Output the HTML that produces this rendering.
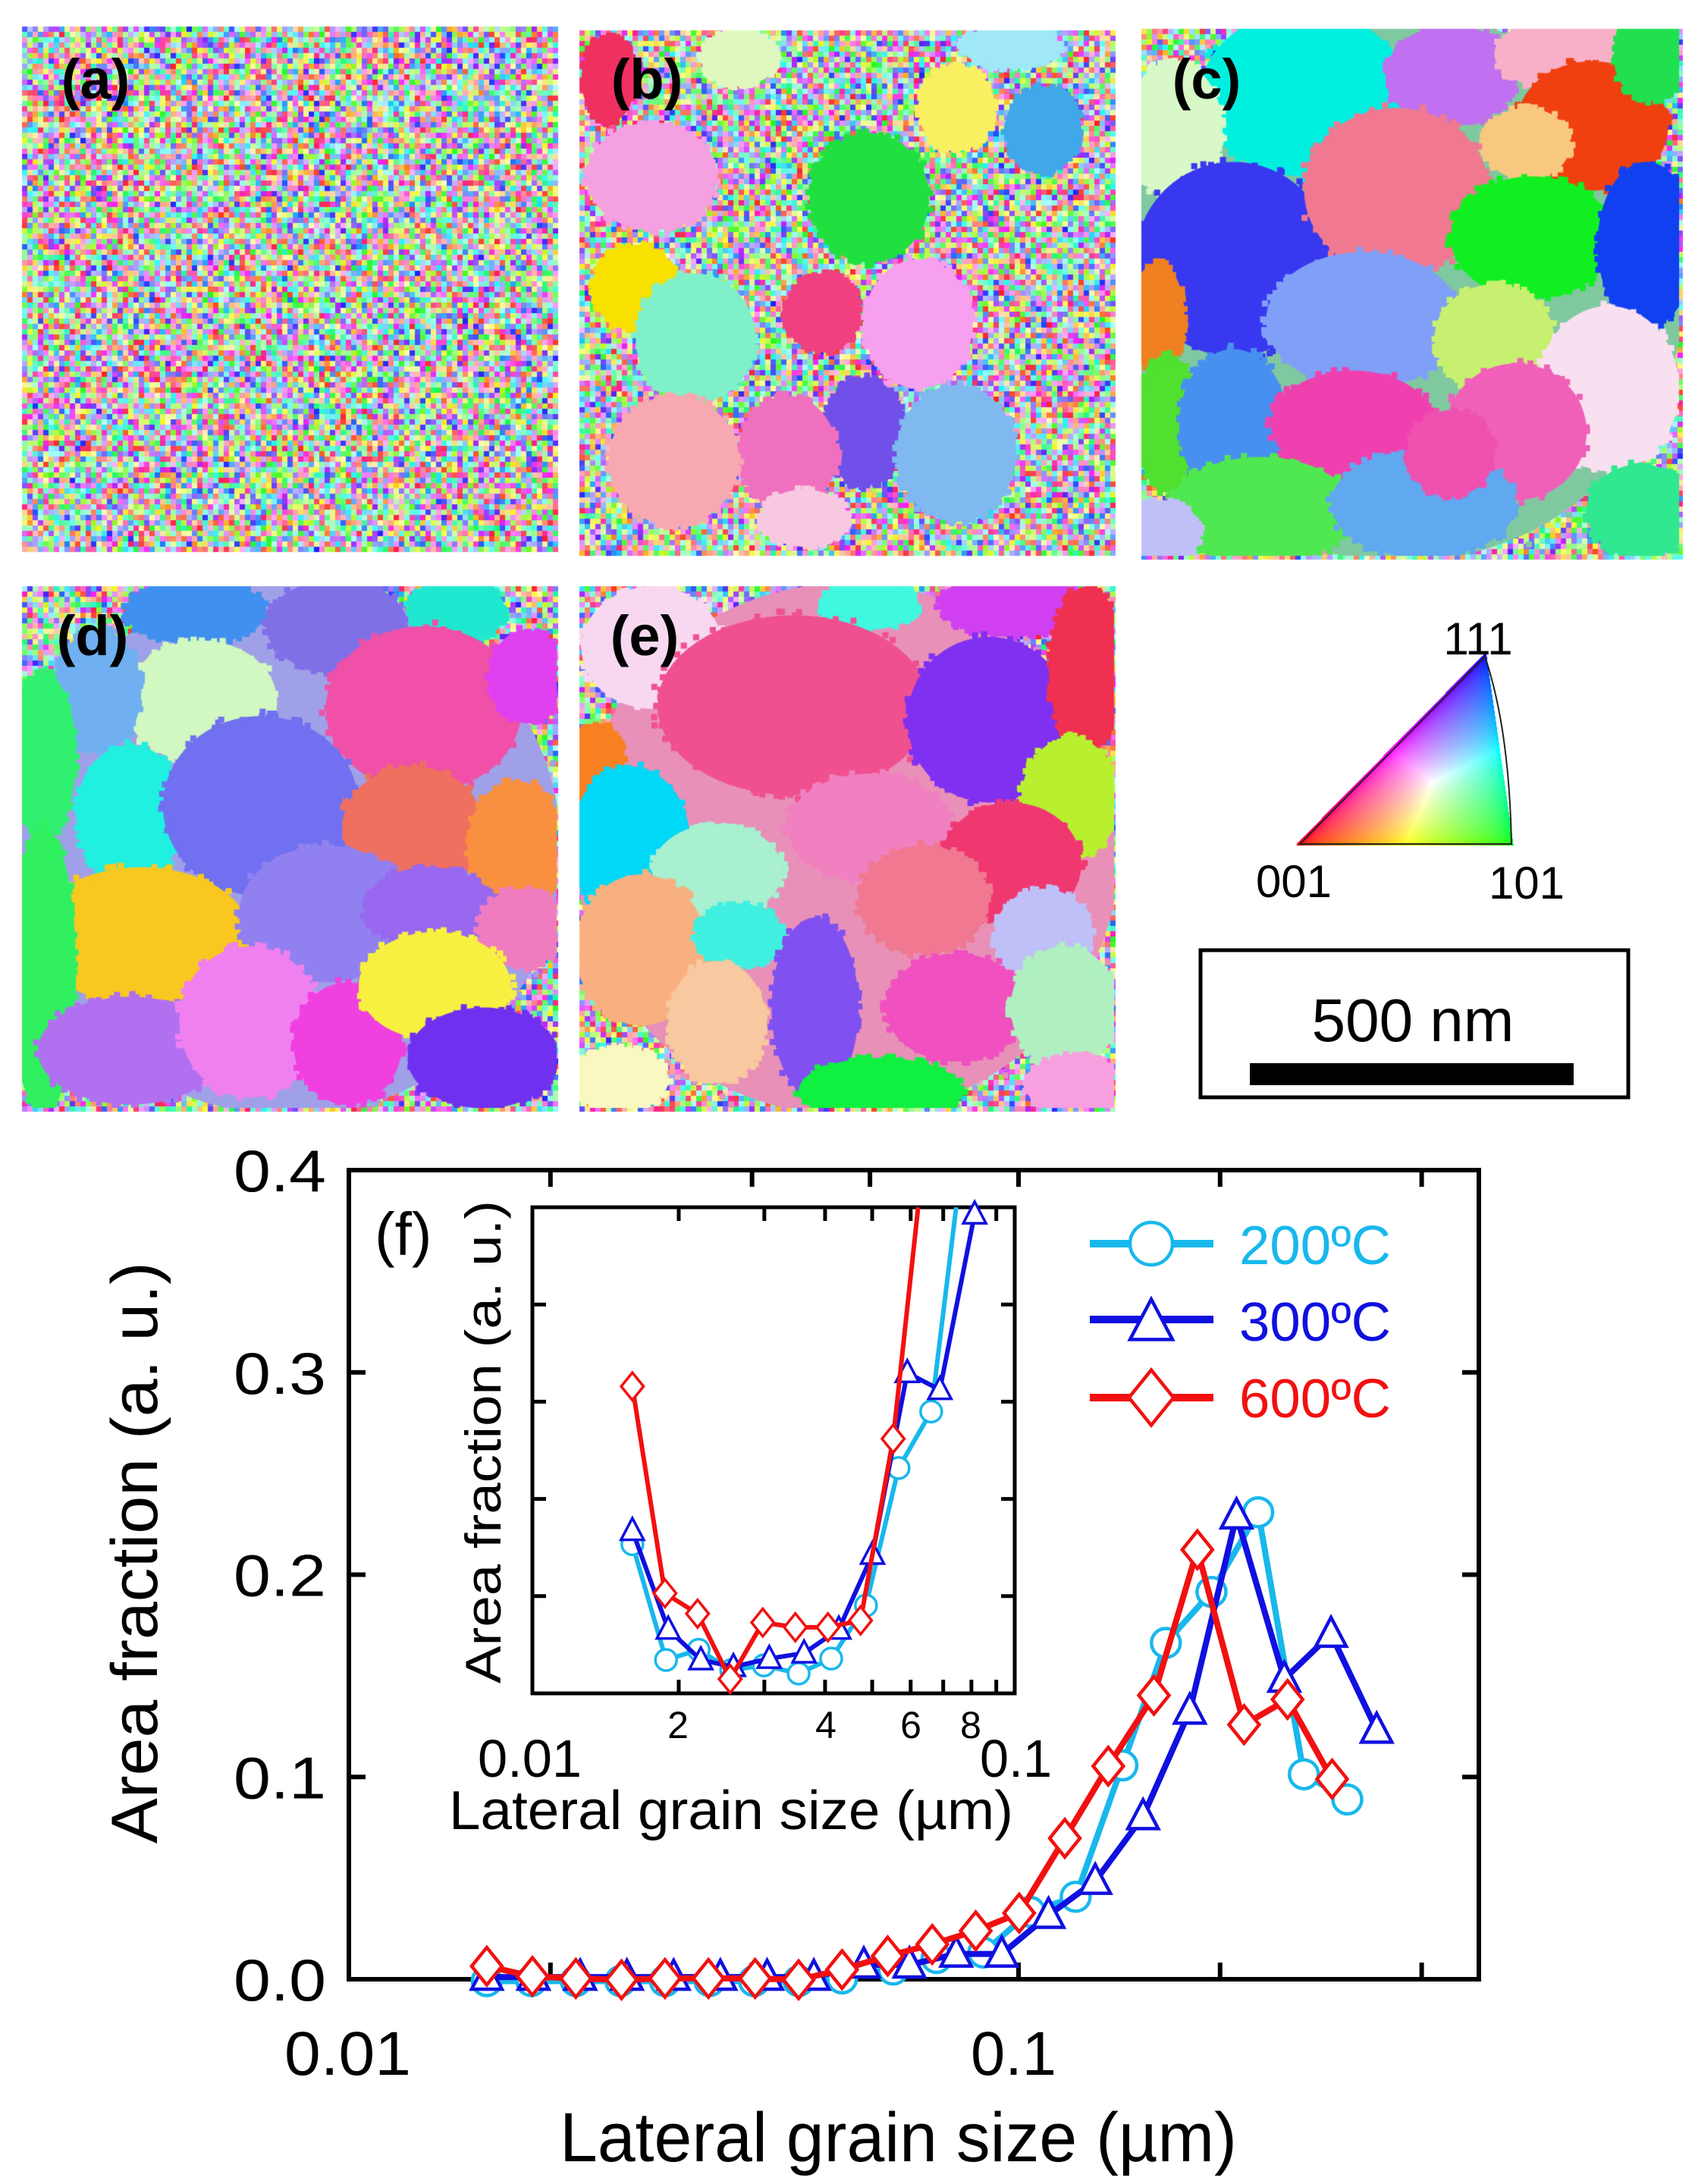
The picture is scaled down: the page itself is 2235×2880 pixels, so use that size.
<!DOCTYPE html>
<html><head><meta charset="utf-8"><style>
html,body{margin:0;padding:0;background:#fff}
#wrap{position:relative;width:2235px;height:2880px;overflow:hidden;background:#fff}
canvas{position:absolute}
svg{position:absolute;left:0;top:0}
</style></head><body><div id="wrap">
<canvas id="cv" width="2235" height="1480" style="left:0;top:0"></canvas>
<svg id="sv" width="2235" height="2880" viewBox="0 0 2235 2880" font-family="Liberation Sans, sans-serif">
<path d="M1714,1113 L1993,1113 Q1990,960 1958,866 Z" fill="none" stroke="#222" stroke-width="2"/>
<g font-size="60" fill="#000">
<text x="1949" y="863" text-anchor="middle">111</text>
<text x="1706" y="1183" text-anchor="middle">001</text>
<text x="2013" y="1185" text-anchor="middle">101</text>
</g>
<rect x="1583" y="1253" width="564" height="194" fill="none" stroke="#000" stroke-width="5"/>
<rect x="1648" y="1402" width="427" height="29" fill="#000"/>
<text x="1863" y="1373" font-size="80" text-anchor="middle">500 nm</text>
<g font-size="74" fill="#000" font-weight="bold">
<text x="126" y="130" text-anchor="middle">(a)</text>
<text x="853" y="130" text-anchor="middle">(b)</text>
<text x="1591" y="130" text-anchor="middle">(c)</text>
<text x="122" y="864" text-anchor="middle">(d)</text>
<text x="850" y="864" text-anchor="middle">(e)</text>
</g>
<g id="chart"></g>
</svg>
<script>
(function(){
var cv=document.getElementById('cv'),c=cv.getContext('2d');
var seed=12345;function rnd(){seed=(seed*1103515245+12345)&0x7fffffff;return seed/0x7fffffff;}
var panels=[[29,35,705,691],[764,40,705,689],[1505,38,709,695],[29,773,705,688],[764,773,705,688]];
panels.forEach(function(p){
 for(var y=p[1];y<p[1]+p[3];y+=7){for(var x=p[0];x<p[0]+p[2];x+=7){
  var h=Math.floor(rnd()*360),l=55+rnd()*30;
  c.fillStyle='hsl('+h+',95%,'+l+'%)';c.fillRect(x,y,7,7);}}
});
function E(zx,zy,rx,ry,col,pi){var p=panels[pi];c.save();c.beginPath();c.rect(p[0],p[1],p[2],p[3]);c.clip();
 c.fillStyle=col;c.beginPath();c.ellipse(zx*1.433,zy*0.949,rx*1.433,ry*0.949,0,0,Math.PI*2);c.fill();
 for(var i=0;i<60;i++){var a=rnd()*Math.PI*2;var r=0.95+rnd()*0.1;c.fillRect(zx*1.433+Math.cos(a)*rx*1.433*r-4,zy*0.949+Math.sin(a)*ry*0.949*r-4,8,8);}
 c.restore();}
var b=[[600,245,60,75,'#f5a0e0'],[800,275,55,90,'#20e040'],[880,150,35,60,'#f8f060'],[960,180,35,60,'#40a8e8'],[585,400,40,60,'#f8e000'],[640,470,55,90,'#80f0c8'],[757,435,35,55,'#f04080'],[845,450,50,90,'#f8a0f0'],[795,600,38,75,'#7050e8'],[880,630,55,95,'#80b8f0'],[725,630,45,80,'#f070c0'],[620,640,60,90,'#f8a8b0'],[560,110,25,60,'#f03060'],[680,80,35,40,'#e0f8c0'],[740,720,40,40,'#f8c8e0'],[930,65,45,30,'#a0e8f8']];
b.forEach(function(g){E(g[0],g[1],g[2],g[3],g[4],1)});
var cc=[[1290,400,260,380,'#80c8a0'],[1200,130,95,115,'#00f0e0'],[1335,105,60,70,'#c070f0'],[1440,75,65,50,'#f8b0c8'],[1465,175,70,90,'#f04010'],[1405,200,40,50,'#f8c880'],[1520,80,35,60,'#20e050'],[1080,180,45,95,'#d8f8c8'],[1135,360,90,135,'#3838f0'],[1285,265,85,115,'#f07890'],[1410,330,75,85,'#10f020'],[1515,340,45,115,'#1040f0'],[1065,440,25,75,'#f08020'],[1255,445,90,95,'#80a0f8'],[1375,470,55,75,'#c8f070'],[1480,540,65,115,'#f8e0f0'],[1075,590,30,95,'#50e030'],[1135,590,50,105,'#4890f0'],[1245,590,75,75,'#f040b0'],[1395,600,65,95,'#f060b8'],[1160,710,85,75,'#50e850'],[1310,700,85,75,'#60a8f0'],[1510,710,50,65,'#30e890'],[1070,740,35,45,'#c0c0f8'],[1335,630,40,60,'#f050b0']];
cc.forEach(function(g){E(g[0],g[1],g[2],g[3],g[4],2)});
var d=[[266,1180,250,370,'#a0a0e8'],[180,850,65,45,'#4090f0'],[310,870,65,65,'#8070e8'],[420,850,45,45,'#20e8d0'],[185,975,70,85,'#d0f8c0'],[90,960,40,85,'#70b0f0'],[40,1050,30,115,'#30f070'],[390,985,90,115,'#f050a8'],[485,940,35,65,'#e040f0'],[120,1130,50,95,'#20f0e0'],[240,1120,90,125,'#7070f0'],[380,1150,65,85,'#f07060'],[475,1180,45,95,'#f89040'],[130,1300,100,95,'#f8c820'],[300,1270,80,95,'#9080f0'],[395,1260,60,55,'#9868f0'],[480,1290,40,55,'#f07cc0'],[40,1350,30,200,'#30f060'],[120,1460,85,75,'#b070f0'],[230,1420,65,105,'#f080f0'],[320,1450,50,85,'#f040e0'],[400,1370,70,75,'#f8f040'],[445,1470,70,70,'#7030f0']];
d.forEach(function(g){E(g[0],g[1],g[2],g[3],g[4],3)});
var e=[[780,1180,250,370,'#e890b8'],[600,900,65,85,'#f8d8f0'],[800,840,45,35,'#40f8e0'],[930,840,65,45,'#d040f0'],[730,980,125,125,'#f05090'],[910,1000,75,115,'#8030f0'],[1000,930,35,115,'#f03050'],[550,1070,25,65,'#f88020'],[580,1170,55,105,'#00d8f8'],[800,1150,75,75,'#f080c0'],[660,1210,60,65,'#a8f0d0'],[985,1110,45,85,'#b8f030'],[930,1200,65,85,'#f03870'],[590,1320,60,105,'#f8b080'],[850,1250,60,75,'#f07890'],[960,1300,45,65,'#c0c0f8'],[680,1300,40,45,'#40f0e0'],[750,1400,40,125,'#8050f0'],[660,1420,45,85,'#f8c8a0'],[880,1400,65,75,'#f050c0'],[980,1400,50,85,'#b0f0c0'],[810,1515,75,45,'#10f040'],[570,1500,45,45,'#f8f8c0'],[990,1510,45,45,'#f8a0e0']];
e.forEach(function(g){E(g[0],g[1],g[2],g[3],g[4],4)});
// IPF triangle
var A=[1714,1113],Bv=[1993,1113],C=[1958,866];
var det=(Bv[1]-C[1])*(A[0]-C[0])+(C[0]-Bv[0])*(A[1]-C[1]);
for(var y=860;y<=1114;y++){for(var x=1710;x<=1995;x++){
 var l1=((Bv[1]-C[1])*(x-C[0])+(C[0]-Bv[0])*(y-C[1]))/det;
 var l2=((C[1]-A[1])*(x-C[0])+(A[0]-C[0])*(y-C[1]))/det;
 var l3=1-l1-l2;
 if(l1<-0.01||l2<-0.02||l3<-0.01)continue;
 var yl=1113-(1113-866)*0; // curved right edge approx
 if(x>1958+35*(y-866)/247+2)continue;
 l1=Math.max(l1,0);l2=Math.max(l2,0);l3=Math.max(l3,0);
 var r=Math.sqrt(l1),g=Math.sqrt(l2),bb=Math.sqrt(l3),m=Math.max(r,g,bb);
 c.fillStyle='rgb('+Math.round(255*r/m)+','+Math.round(255*g/m)+','+Math.round(255*bb/m)+')';
 c.fillRect(x,y,1,1);}}

// ---- chart ----
var G=document.getElementById('chart'),h='';
function X(z){return z*1.4327}function Y(z){return 1480+z*0.8974}
var L=460,R=1950,T=1543,B=2610;
h+='<rect x="'+L+'" y="'+T+'" width="'+(R-L)+'" height="'+(B-T)+'" fill="none" stroke="#000" stroke-width="6"/>';
function lx(v){return 460+883*(Math.log10(v)+2)}
[0.02,0.04,0.06,0.1,0.2,0.4].forEach(function(v){var x=lx(v);h+='<line x1="'+x+'" y1="'+B+'" x2="'+x+'" y2="'+(B-22)+'" stroke="#000" stroke-width="6"/><line x1="'+x+'" y1="'+T+'" x2="'+x+'" y2="'+(T+22)+'" stroke="#000" stroke-width="6"/>';});
for(var i=1;i<4;i++){var y=B-i*(B-T)/4;h+='<line x1="'+L+'" y1="'+y+'" x2="'+(L+22)+'" y2="'+y+'" stroke="#000" stroke-width="6"/><line x1="'+R+'" y1="'+y+'" x2="'+(R-22)+'" y2="'+y+'" stroke="#000" stroke-width="6"/>';}
['0.0','0.1','0.2','0.3','0.4'].forEach(function(s,i){var y=B-i*(B-T)/4;h+='<text x="430" y="'+(y+28)+'" font-size="78" text-anchor="end" textLength="122" lengthAdjust="spacingAndGlyphs">'+s+'</text>';});
h+='<text x="375" y="2736" font-size="82" textLength="167" lengthAdjust="spacingAndGlyphs">0.01</text>';
h+='<text x="1280" y="2736" font-size="82" textLength="113" lengthAdjust="spacingAndGlyphs">0.1</text>';
h+='<text x="738" y="2850" font-size="92" textLength="893" lengthAdjust="spacingAndGlyphs">Lateral grain size (µm)</text>';
h+='<text transform="translate(207,2431) rotate(-90)" font-size="86" textLength="767" lengthAdjust="spacingAndGlyphs">Area fraction (a. u.)</text>';
var iL=702,iR=1338,iT=1592,iB=2233;
h+='<rect x="'+iL+'" y="'+iT+'" width="'+(iR-iL)+'" height="'+(iB-iT)+'" fill="#fff" stroke="#000" stroke-width="5"/>';
function ix(v){return 702+641*(Math.log10(v)+2)}
for(var k=2;k<10;k++){var x=ix(k/100);h+='<line x1="'+x+'" y1="'+iB+'" x2="'+x+'" y2="'+(iB-18)+'" stroke="#000" stroke-width="5"/><line x1="'+x+'" y1="'+iT+'" x2="'+x+'" y2="'+(iT+18)+'" stroke="#000" stroke-width="5"/>';}
for(var i=1;i<5;i++){var y=iB-i*(iB-iT)/5;h+='<line x1="'+iL+'" y1="'+y+'" x2="'+(iL+18)+'" y2="'+y+'" stroke="#000" stroke-width="5"/><line x1="'+iR+'" y1="'+y+'" x2="'+(iR-18)+'" y2="'+y+'" stroke="#000" stroke-width="5"/>';}
[[2,894],[4,1089],[6,1201],[8,1280]].forEach(function(a){h+='<text x="'+a[1]+'" y="2292" font-size="50" text-anchor="middle">'+a[0]+'</text>';});
h+='<text x="630" y="2343" font-size="70" textLength="137" lengthAdjust="spacingAndGlyphs">0.01</text>';
h+='<text x="1292" y="2343" font-size="70" textLength="95" lengthAdjust="spacingAndGlyphs">0.1</text>';
h+='<text x="592" y="2412" font-size="72" textLength="744" lengthAdjust="spacingAndGlyphs">Lateral grain size (µm)</text>';
h+='<text transform="translate(660,2220) rotate(-90)" font-size="66" textLength="637" lengthAdjust="spacingAndGlyphs">Area fraction (a. u.)</text>';
h+='<text x="494" y="1655" font-size="80">(f)</text>';
var CY='#18b8ec',BL='#1010e0',RD='#f21010';
function mk(t,x,y,r,col,sw){if(t=='o')return '<circle cx="'+x+'" cy="'+y+'" r="'+r+'" fill="#fff" stroke="'+col+'" stroke-width="'+sw+'"/>';
 if(t=='t')return '<polygon points="'+x+','+(y-r*1.1)+' '+(x+r)+','+(y+r*0.8)+' '+(x-r)+','+(y+r*0.8)+'" fill="#fff" stroke="'+col+'" stroke-width="'+sw+'"/>';
 return '<polygon points="'+x+','+(y-r*1.3)+' '+(x+r*1.05)+','+y+' '+x+','+(y+r*1.3)+' '+(x-r*1.05)+','+y+'" fill="#fff" stroke="'+col+'" stroke-width="'+sw+'"/>';}
function series(pts,col,t,r,sw,lw,extra){var P=pts.map(function(p){return [X(p[0]),Y(p[1])]});var Aa=P.slice();if(extra)Aa.push([X(extra[0]),Y(extra[1])]);
 h+='<polyline points="'+Aa.map(function(p){return p.join(',')}).join(' ')+'" fill="none" stroke="'+col+'" stroke-width="'+lw+'" stroke-linejoin="round"/>';
 P.forEach(function(p){h+=mk(t,p[0],p[1],r,col,sw)});}
var cy=[],bl=[];
for(var i=0;i<8;i++){cy.push([448+41*i,1262]);bl.push([448+43*i,1256]);}
cy=cy.concat([[775,1258],[822,1245],[862,1228],[905,1220],[948,1160],[990,1138],[1033,945],[1073,765],[1115,690],[1158,573],[1200,958],[1240,995]]);
bl=bl.concat([[795,1238],[837,1238],[880,1222],[922,1222],[965,1165],[1008,1115],[1052,1020],[1095,865],[1138,578],[1182,818],[1225,752],[1267,893]]);
var rd=[[448,1240],[490,1255],[530,1258],[572,1260],[612,1258],[652,1258],[695,1258],[735,1260],[775,1245],[817,1225],[858,1208],[898,1188],[938,1162],[980,1052],[1020,946],[1062,842],[1102,628],[1145,885],[1185,848],[1226,965]];
series(cy,CY,'o',19,4.5,8);series(bl,BL,'t',20,4.5,8);series(rd,RD,'d',19,4.5,8);
series([[582,620],[613,790],[643,775],[673,805],[703,798],[735,810],[765,788],[797,710],[827,508],[857,425]],CY,'o',14,3.5,6,[880,125]);
series([[582,600],[615,745],[645,790],[675,800],[708,788],[740,780],[772,745],[803,635],[835,368],[865,393],[897,135]],BL,'t',15,3.5,6);
series([[582,388],[612,692],[642,722],[672,818],[702,735],[732,742],[762,742],[792,732],[822,465]],RD,'d',14,3.5,6,[845,125]);
[[1640,CY,'o','200ºC',1667],[1740,BL,'t','300ºC',1768],[1843,RD,'d','600ºC',1869]].forEach(function(a){
 h+='<line x1="1437" y1="'+a[0]+'" x2="1600" y2="'+a[0]+'" stroke="'+a[1]+'" stroke-width="10"/>';
 h+=mk(a[2],1518,a[0]+(a[2]=='t'?4:0),28,a[1],4.5);
 h+='<text x="1634" y="'+a[4]+'" font-size="72" fill="'+a[1]+'" textLength="200" lengthAdjust="spacingAndGlyphs">'+a[3]+'</text>';});
G.innerHTML=h;
})();
</script>
</div></body></html>
